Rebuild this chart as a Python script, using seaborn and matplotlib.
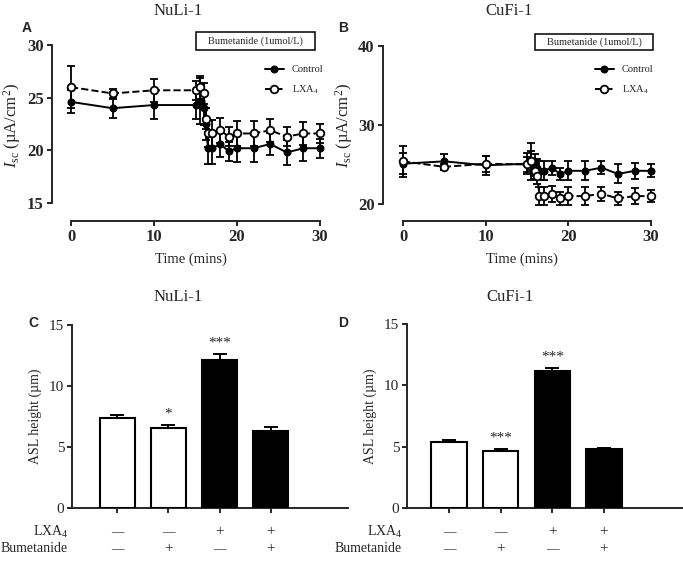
import matplotlib
matplotlib.use("Agg")
import matplotlib.pyplot as plt
import matplotlib.transforms as mtransforms
from matplotlib.patches import Rectangle
import numpy as np
import seaborn as sns

# ---- data ----
times = [0, 5, 10, 15, 15.5, 16, 16.25, 16.5, 17, 18, 19, 20, 22, 24, 26, 28, 30]

nuli_ctrl = [24.6, 24.0, 24.3, 24.3, 24.7, 24.0, 22.5, 20.2, 20.2, 20.6, 19.9, 20.2, 20.2, 20.6, 19.8, 20.2, 20.2]
nuli_ctrl_err = [1.1, 0.9, 1.3, 1.3, 2.2, 1.6, 1.5, 1.5, 1.5, 1.2, 0.9, 1.3, 1.3, 1.0, 1.2, 1.2, 0.9]
nuli_lxa = [26.0, 25.4, 25.7, 25.7, 26.0, 25.4, 23.0, 21.6, 21.6, 21.9, 21.3, 21.6, 21.6, 21.9, 21.3, 21.6, 21.6]
nuli_lxa_err = [2.0, 0.4, 1.1, 0.9, 1.1, 1.0, 1.0, 1.3, 1.3, 1.2, 0.9, 1.2, 1.2, 1.1, 0.9, 1.1, 0.9]

cufi_ctrl = [25.1, 25.4, 24.9, 25.1, 25.4, 24.9, 24.5, 24.2, 24.2, 24.6, 23.8, 24.2, 24.2, 24.6, 23.8, 24.2, 24.2]
cufi_ctrl_err = [1.3, 0.9, 1.2, 1.3, 2.3, 1.4, 1.2, 1.2, 1.2, 0.9, 0.8, 1.2, 1.2, 0.8, 1.2, 1.0, 0.8]
cufi_lxa = [25.4, 24.7, 25.1, 25.0, 25.5, 24.2, 23.5, 21.0, 21.0, 21.3, 20.7, 21.0, 21.0, 21.3, 20.7, 21.0, 21.0]
cufi_lxa_err = [2.0, 0.4, 1.0, 1.0, 1.2, 1.0, 1.0, 1.1, 1.1, 1.0, 0.8, 1.1, 1.1, 0.9, 0.8, 1.0, 0.8]

conditions = ["c1", "c2", "c3", "c4"]
lxa_signs = ["\u2014", "\u2014", "+", "+"]
bumet_signs = ["\u2014", "+", "\u2014", "+"]
bar_colors = ["white", "white", "black", "black"]

nuli_asl = [7.35, 6.55, 12.15, 6.35]
nuli_asl_err = [0.3, 0.27, 0.5, 0.3]
nuli_stars = ["", "*", "***", ""]

cufi_asl = [5.4, 4.68, 11.15, 4.77]
cufi_asl_err = [0.14, 0.14, 0.27, 0.13]
cufi_stars = ["", "***", "***", ""]

# ---- style ----
sns.set_style("ticks")
plt.rcParams["font.family"] = ["Liberation Serif", "DejaVu Serif"]
plt.rcParams["mathtext.fontset"] = "custom"
plt.rcParams["mathtext.rm"] = "Liberation Serif"
plt.rcParams["mathtext.it"] = "Liberation Serif:italic"
plt.rcParams["axes.linewidth"] = 1.4
plt.rcParams["xtick.major.width"] = 1.4
plt.rcParams["ytick.major.width"] = 1.4
plt.rcParams["xtick.major.size"] = 3.5
plt.rcParams["ytick.major.size"] = 3.5

W, H = 683, 561
fig = plt.figure(figsize=(W / 100, H / 100), dpi=100)


def px_axes(left, top, right, bottom):
    return fig.add_axes([left / W, 1 - bottom / H, (right - left) / W, (bottom - top) / H])


def line_panel(ax, ctrl, ctrl_err, lxa, lxa_err, xlim, ylim, ybounds, yticks, box, ylab_x):
    ax.errorbar(times, ctrl, yerr=ctrl_err, fmt="none", ecolor="black",
                elinewidth=1.3, capsize=3, capthick=1.3, zorder=2)
    ax.errorbar(times, lxa, yerr=lxa_err, fmt="none", ecolor="black",
                elinewidth=1.3, capsize=3, capthick=1.3, zorder=2)
    sns.lineplot(x=times, y=ctrl, ax=ax, color="black", lw=1.4, marker="o",
                 markersize=5, markeredgecolor="black", label="Control", zorder=3)
    sns.lineplot(x=times, y=lxa, ax=ax, color="black", lw=1.4, linestyle="--",
                 marker="o", markersize=5.5, markerfacecolor="white",
                 markeredgecolor="black", markeredgewidth=1.3, label="LXA$_4$", zorder=4)
    ax.set_xlim(*xlim)
    ax.set_ylim(*ylim)
    sns.despine(ax=ax)
    ax.spines["left"].set_bounds(*ybounds)
    ax.spines["bottom"].set_bounds(0, 30)
    ax.set_xticks([0, 10, 20, 30])
    ax.set_yticks(yticks)
    ax.tick_params(axis="both", pad=2.5)
    for lab in ax.get_xticklabels() + ax.get_yticklabels():
        lab.set_fontweight("bold")
        lab.set_fontsize(12)
    ax.set_xlabel("Time (mins)", fontsize=10.5, labelpad=5)
    ax.set_ylabel(r"$I_{\mathrm{sc}}$ (µA/cm$^{2}$)", fontsize=12)
    ax.yaxis.set_label_coords(ylab_x, 0.5)
    ax.legend(loc="upper right", bbox_to_anchor=(1.0, 0.85), frameon=False,
              fontsize=7.5, handlelength=1.8, labelspacing=0.9, borderaxespad=0.2)
    # treatment box
    cx, cy, bw, bh = box
    ax.add_patch(Rectangle((cx - bw / 2, cy - bh / 2), bw, bh, transform=ax.transAxes,
                           fc="white", ec="black", lw=1.1, clip_on=False, zorder=5))
    ax.text(cx, cy, "Bumetanide (1umol/L)", transform=ax.transAxes, fontsize=7.5,
            ha="center", va="center", zorder=6)


def bar_panel(ax, vals, errs, stars, xlim):
    sns.barplot(x=conditions, y=vals, hue=conditions, palette=bar_colors, legend=False,
                edgecolor="black", linewidth=1.5, width=0.69, ax=ax, zorder=3)
    pos = np.arange(len(conditions))
    ax.errorbar(pos, vals, yerr=[np.zeros(len(vals)), errs], fmt="none", ecolor="black",
                elinewidth=1.4, capsize=5, capthick=1.4, zorder=2)
    for p, v, e, s in zip(pos, vals, errs, stars):
        if s:
            ax.text(p, v + e + 0.35, s, ha="center", va="bottom", fontsize=11)
    ax.set_xlim(*xlim)
    ax.set_ylim(0, 15)
    sns.despine(ax=ax)
    ax.set_yticks([0, 5, 10, 15])
    ax.set_xticks(pos)
    ax.set_xticklabels([""] * len(pos))
    ax.tick_params(axis="y", labelsize=11, pad=2)
    ax.set_xlabel("")
    ax.set_ylabel("ASL height (µm)", fontsize=10, labelpad=5)
    trans = mtransforms.blended_transform_factory(ax.transData, fig.transFigure)
    for p, a, b in zip(pos, lxa_signs, bumet_signs):
        ax.text(p, 1 - 532 / H, a, transform=trans, ha="center", va="center",
                fontsize=9 if a == "\u2014" else 11)
        ax.text(p, 1 - 549 / H, b, transform=trans, ha="center", va="center",
                fontsize=9 if b == "\u2014" else 11)


# Panel A
axA = px_axes(52, 30, 330, 221)
line_panel(axA, nuli_ctrl, nuli_ctrl_err, nuli_lxa, nuli_lxa_err,
           (-19 / 8.3, 259 / 8.3), (15 - 18 / 10.53, 30 + 15 / 10.53), (15, 30),
           [15, 20, 25, 30], (0.732, 0.942, 0.428, 0.094), -0.105)

# Panel B
axB = px_axes(383, 30, 660, 221)
line_panel(axB, cufi_ctrl, cufi_ctrl_err, cufi_lxa, cufi_lxa_err,
           (-20 / 8.27, 257 / 8.27), (20 - 17 / 7.9, 40 + 16 / 7.9), (20, 40),
           [20, 30, 40], (0.762, 0.935, 0.427, 0.084), -0.10)

# Panel C
axC = px_axes(72, 325, 348, 508)
bar_panel(axC, nuli_asl, nuli_asl_err, nuli_stars, (-45 / 51, 3 + 77 / 51))
fig.text(68 / W, 1 - 532 / H, "LXA$_4$", ha="right", va="center", fontsize=10)
fig.text(68 / W, 1 - 549 / H, "Bumetanide", ha="right", va="center", fontsize=10)

# Panel D
axD = px_axes(407, 324, 683, 508)
bar_panel(axD, cufi_asl, cufi_asl_err, cufi_stars, (-42 / 51.7, 3 + 79 / 51.7))
fig.text(402 / W, 1 - 532 / H, "LXA$_4$", ha="right", va="center", fontsize=10)
fig.text(402 / W, 1 - 549 / H, "Bumetanide", ha="right", va="center", fontsize=10)

# titles
for x, y, t in [(178, 11, "NuLi-1"), (509, 11, "CuFi-1"),
                (178, 297, "NuLi-1"), (510, 297, "CuFi-1")]:
    fig.text(x / W, 1 - y / H, t, ha="center", va="center", fontsize=12)

# panel letters
for x, y, t in [(22, 28, "A"), (338, 28, "B"), (28, 323, "C"), (338, 323, "D")]:
    fig.text(x / W, 1 - y / H, t, ha="left", va="center", fontsize=10,
             fontweight="bold", family=["Liberation Sans", "DejaVu Sans"])

fig.savefig("out.png", dpi=100)
